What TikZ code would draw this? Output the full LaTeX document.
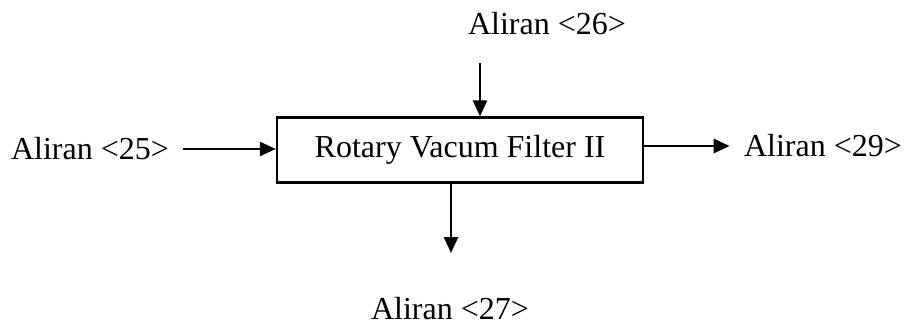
\documentclass[tikz,border=0pt]{standalone}
\usepackage{fontspec}
\setmainfont{Liberation Serif}
\usetikzlibrary{arrows.meta}

\begin{document}
\begin{tikzpicture}[x=0.5pt,y=-0.5pt,font=\fontsize{16}{19}\selectfont,
  every node/.style={inner sep=7pt},
  flow/.style={-{Triangle[length=8pt,width=7pt]},line width=1.4pt}]
\useasboundingbox (0,0) rectangle (910,327);
\node[draw,line width=1.2pt,minimum width=183pt,minimum height=32.5pt] (rvf) at (460,150) {Rotary Vacum Filter II};
\node (a25) at (90,149) {Aliran <25>};
\node (a26) at (547,24) {Aliran <26>};
\node (a29) at (823,146) {Aliran <29>};
\node (a27) at (450,309) {Aliran <27>};
\coordinate (in26) at (480,63);
\coordinate (out27) at (451,253);
\draw[flow] (a25.east) -- (rvf.west |- a25.east);
\draw[flow] (in26) -- (rvf.north -| in26);
\draw[flow] (rvf.east |- a29.west) -- (a29.west);
\draw[flow] (rvf.south -| out27) -- (out27);
\end{tikzpicture}
\end{document}
